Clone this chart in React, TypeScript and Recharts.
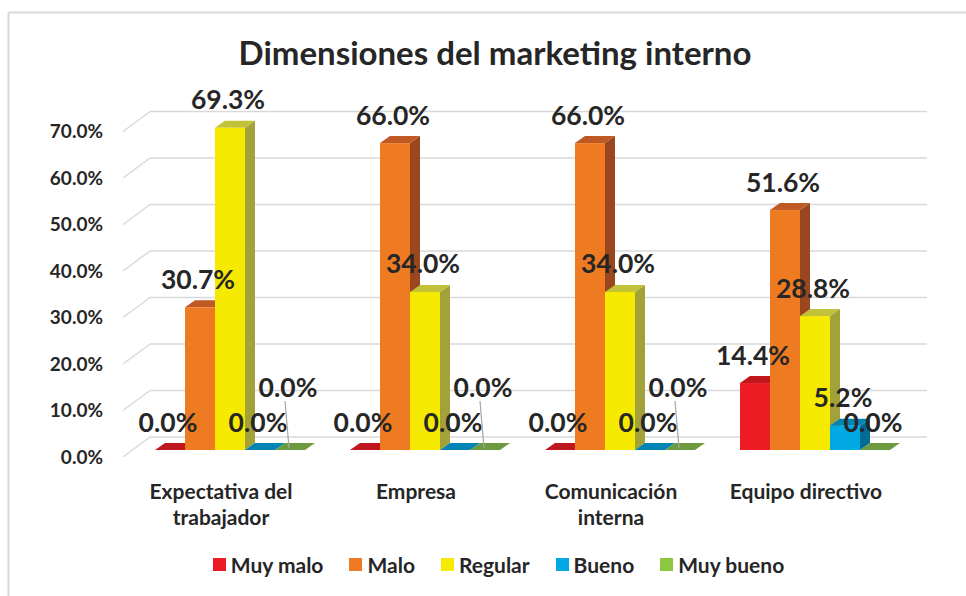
import React from "react";
import { BarChart, Bar, XAxis, YAxis, CartesianGrid, Legend, LabelList } from "recharts";

const categories = ["Expectativa del trabajador", "Empresa", "Comunicación interna", "Equipo directivo"];
const tickLines = [["Expectativa del", "trabajador"], ["Empresa"], ["Comunicación", "interna"], ["Equipo directivo"]];
const muyMalo = [0, 0, 0, 14.4];
const malo = [30.7, 66.0, 66.0, 51.6];
const regular = [69.3, 34.0, 34.0, 28.8];
const bueno = [0, 0, 0, 5.2];
const muyBueno = [0, 0, 0, 0];
const yTicks = [0, 10, 20, 30, 40, 50, 60, 70];

const FONT = "Lato, 'Open Sans', sans-serif";
const INK = "#262626";
const DX = 10;
const DY = 7;

const series = [
  { key: "muyMalo", name: "Muy malo", front: "#ED1C24", top: "#C0161D", side: "#9E1318", legend: "#ED1C24" },
  { key: "malo", name: "Malo", front: "#EE7B22", top: "#BF5A24", side: "#9A461E", legend: "#EE7B22" },
  { key: "regular", name: "Regular", front: "#F5EA00", top: "#C2C13A", side: "#A3A23A", legend: "#F5EA00" },
  { key: "bueno", name: "Bueno", front: "#00A9E4", top: "#0084B4", side: "#006C96", legend: "#00A9E4" },
  { key: "muyBueno", name: "Muy bueno", front: "#8DC63F", top: "#6C9A3E", side: "#557A30", legend: "#8DC63F" },
];

const data = categories.map((name, i) => ({
  name,
  idx: i,
  muyMalo: muyMalo[i],
  malo: malo[i],
  regular: regular[i],
  bueno: bueno[i],
  muyBueno: muyBueno[i],
}));

// green zero labels in the first three groups sit higher with a leader line
const liftedGreen = new Set([0, 1, 2]);

function Box3D(props: any) {
  const { x, y, width: w, height: h, c } = props;
  if (x == null || y == null) return null;
  const hh = Math.max(0, h || 0);
  const topFace = `${x},${y} ${x + DX},${y - DY} ${x + w + DX},${y - DY} ${x + w},${y}`;
  if (hh < 0.5) {
    return <polygon points={topFace} fill={c.top} />;
  }
  const sideFace = `${x + w},${y} ${x + w + DX},${y - DY} ${x + w + DX},${y + hh - DY} ${x + w},${y + hh}`;
  return (
    <g>
      <polygon points={sideFace} fill={c.side} />
      <polygon points={topFace} fill={c.top} />
      <rect x={x} y={y} width={w} height={hh} fill={c.front} />
    </g>
  );
}

const makeLabel = (seriesKey: string) => (props: any) => {
  const vb = props.viewBox || props;
  const { x, y, width } = vb;
  const { value, index } = props;
  if (x == null) return null;
  const cx = x + width / 2 - 2;
  let cy = y - 28;
  const lifted = seriesKey === "muyBueno" && liftedGreen.has(index);
  if (lifted) cy -= 35;
  return (
    <g>
      {lifted && <line x1={cx - 3} y1={cy + 14} x2={cx + 1} y2={y - 2} stroke="#A6A6A6" strokeWidth={1.2} />}
      <text x={cx} y={cy} dy="0.36em" textAnchor="middle" fontFamily={FONT} fontWeight={700} fontSize={26.5} fill={INK}>
        {Number(value).toFixed(1)}%
      </text>
    </g>
  );
};

function YTick(props: any) {
  const { y, payload } = props;
  return (
    <text x={103} y={y + 7} dy="0.36em" textAnchor="end" fontFamily={FONT} fontWeight={700} fontSize={19} fill={INK}>
      {Number(payload.value).toFixed(1)}%
    </text>
  );
}

function XTick(props: any) {
  const { x, y, index } = props;
  const lines = tickLines[index] || [];
  return (
    <g>
      {lines.map((l, i) => (
        <text key={i} x={x - 9} y={y + 41 + i * 26} textAnchor="middle" fontFamily={FONT} fontWeight={700} fontSize={21} fill={INK}>
          {l}
        </text>
      ))}
    </g>
  );
}

function gridLine(p: any) {
  const { x1, x2, y1, key } = p;
  return (
    <g key={key}>
      <line x1={x1 - 9.5} y1={y1 + 7} x2={x1 + 17.5} y2={y1 - 13} stroke="#D9D9D9" strokeWidth={1.5} />
      <line x1={x1 + 17.5} y1={y1 - 13} x2={x2 + 14.5} y2={y1 - 13} stroke="#D9D9D9" strokeWidth={1.5} />
    </g>
  );
}

function LegendContent() {
  return (
    <div style={{ display: "flex", justifyContent: "center", gap: 26, fontFamily: FONT, fontWeight: 700, fontSize: 21, color: INK }}>
      {series.map((s) => (
        <div key={s.key} style={{ display: "flex", alignItems: "center" }}>
          <span style={{ display: "inline-block", width: 13, height: 13, background: s.legend, marginRight: 5 }} />
          {s.name}
        </div>
      ))}
    </div>
  );
}

export default function App() {
  return (
    <div style={{ position: "absolute", left: 0, top: 0, width: 966, height: 596, background: "#fff", overflow: "hidden" }}>
      <svg width={966} height={596} style={{ position: "absolute", left: 0, top: 0 }}>
        <line x1={8.5} y1={12.5} x2={966} y2={12.5} stroke="#D9D9D9" strokeWidth={2} />
        <line x1={8.5} y1={12.5} x2={8.5} y2={596} stroke="#D9D9D9" strokeWidth={2} />
        <text x={495} y={65} textAnchor="middle" fontFamily={FONT} fontWeight={700} fontSize={33} fill={INK}>
          Dimensiones del marketing interno
        </text>
      </svg>
      <div style={{ position: "absolute", left: 0, top: 0 }}>
        <BarChart
          width={966}
          height={596}
          data={data}
          margin={{ top: 124.5, right: 53.5, bottom: 0, left: 0 }}
          barCategoryGap={22.5}
          barGap={0}
        >
          <CartesianGrid vertical={false} horizontal={gridLine as any} />
          <XAxis dataKey="name" height={146} axisLine={false} tickLine={false} tick={<XTick />} interval={0} />
          <YAxis width={132.5} domain={[0, 70]} ticks={yTicks} axisLine={false} tickLine={false} tick={<YTick />} />
          <Legend verticalAlign="middle" layout="horizontal" wrapperStyle={{ left: 0, top: 552, width: 997 }} content={<LegendContent />} />
          {series.map((s) => (
            <Bar key={s.key} dataKey={s.key} name={s.name} fill={s.front} isAnimationActive={false} shape={(p: any) => <Box3D {...p} c={s} />}>
              <LabelList dataKey={s.key} content={makeLabel(s.key)} />
            </Bar>
          ))}
        </BarChart>
      </div>
    </div>
  );
}
